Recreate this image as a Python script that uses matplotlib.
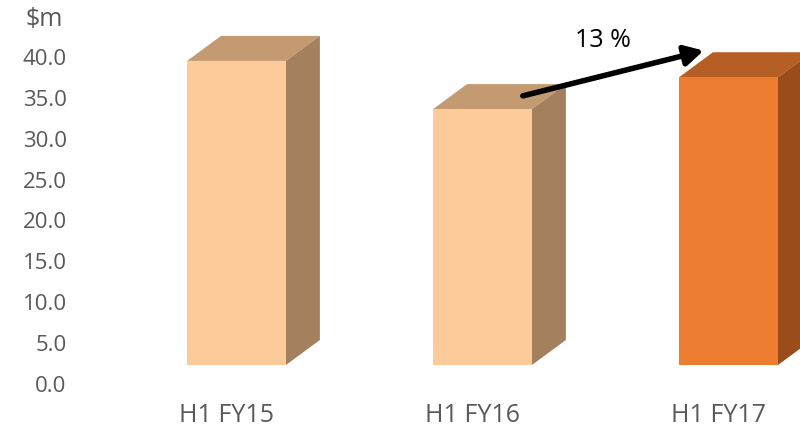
import numpy as np
import matplotlib
matplotlib.use('Agg')
import matplotlib.pyplot as plt
from matplotlib.patches import Polygon

plt.rcParams['font.family'] = ['Open Sans', 'DejaVu Sans']

# data ($m)
categories = ['H1 FY15', 'H1 FY16', 'H1 FY17']
revenue = [37.2, 31.3, 35.2]
growth_label = '13 %'

front_cols = ['#FDCB9A', '#FDCB9A', '#ED7D31']
top_cols = ['#C49B70', '#C49B70', '#B65F24']
side_cols = ['#A5805F', '#A5805F', '#9A4C1A']

base = 2.2      # front face sits a bit above the wall floor (3d look)
w = 0.402       # bar width
dx, dy = 0.138, 3.06   # depth offset

fig = plt.figure(figsize=(8, 4.27), dpi=100)
ax = fig.add_axes([75 / 800, 43 / 427, 725 / 800, (327 / 40 * 45) / 427])

x = np.arange(len(categories))
ax.bar(x, revenue, bottom=base, width=w, color=front_cols, zorder=3)

for xi, v, tc, sc in zip(x, revenue, top_cols, side_cols):
    l, r = xi - w / 2, xi + w / 2
    top = base + v
    ax.add_patch(Polygon([(l, top), (r, top), (r + dx, top + dy), (l + dx, top + dy)],
                         closed=True, facecolor=tc, edgecolor='none', zorder=2))
    ax.add_patch(Polygon([(r, base), (r + dx, base + dy), (r + dx, top + dy), (r, top)],
                         closed=True, facecolor=sc, edgecolor='none', zorder=2))

# growth arrow from FY16 top to FY17 top
top16 = base + revenue[1]
top17 = base + revenue[2]
ax.annotate('', xy=(x[2] - w / 2 + 0.1, top17 + dy + 0.2),
            xytext=(x[1] + w / 2 - 0.037, top16 + dy * 0.53),
            arrowprops=dict(arrowstyle='-|>,head_length=1.1,head_width=0.6',
                            lw=4, color='black', shrinkA=0, shrinkB=0),
            zorder=5)
ax.text(1.49, 42.0, growth_label, fontsize=18, color='black', ha='center', va='center')

ax.set_xlim(-0.6565, 2.2907)
ax.set_ylim(0, 45)
ax.set_yticks(np.arange(0, 41, 5))
ax.set_yticklabels([f'{t:.1f}' for t in np.arange(0, 41, 5)])
ax.set_xticks(x - 0.04)
ax.set_xticklabels(categories)
ax.tick_params(axis='y', length=0, pad=6, labelsize=16, labelcolor='#595959')
ax.tick_params(axis='x', length=0, pad=14, labelsize=18, labelcolor='#595959')
for s in ax.spines.values():
    s.set_visible(False)

fig.text(44 / 800, 1 - 20 / 427, '$m', fontsize=18, color='#595959', ha='center', va='center')

plt.savefig('out.png', dpi=100)
